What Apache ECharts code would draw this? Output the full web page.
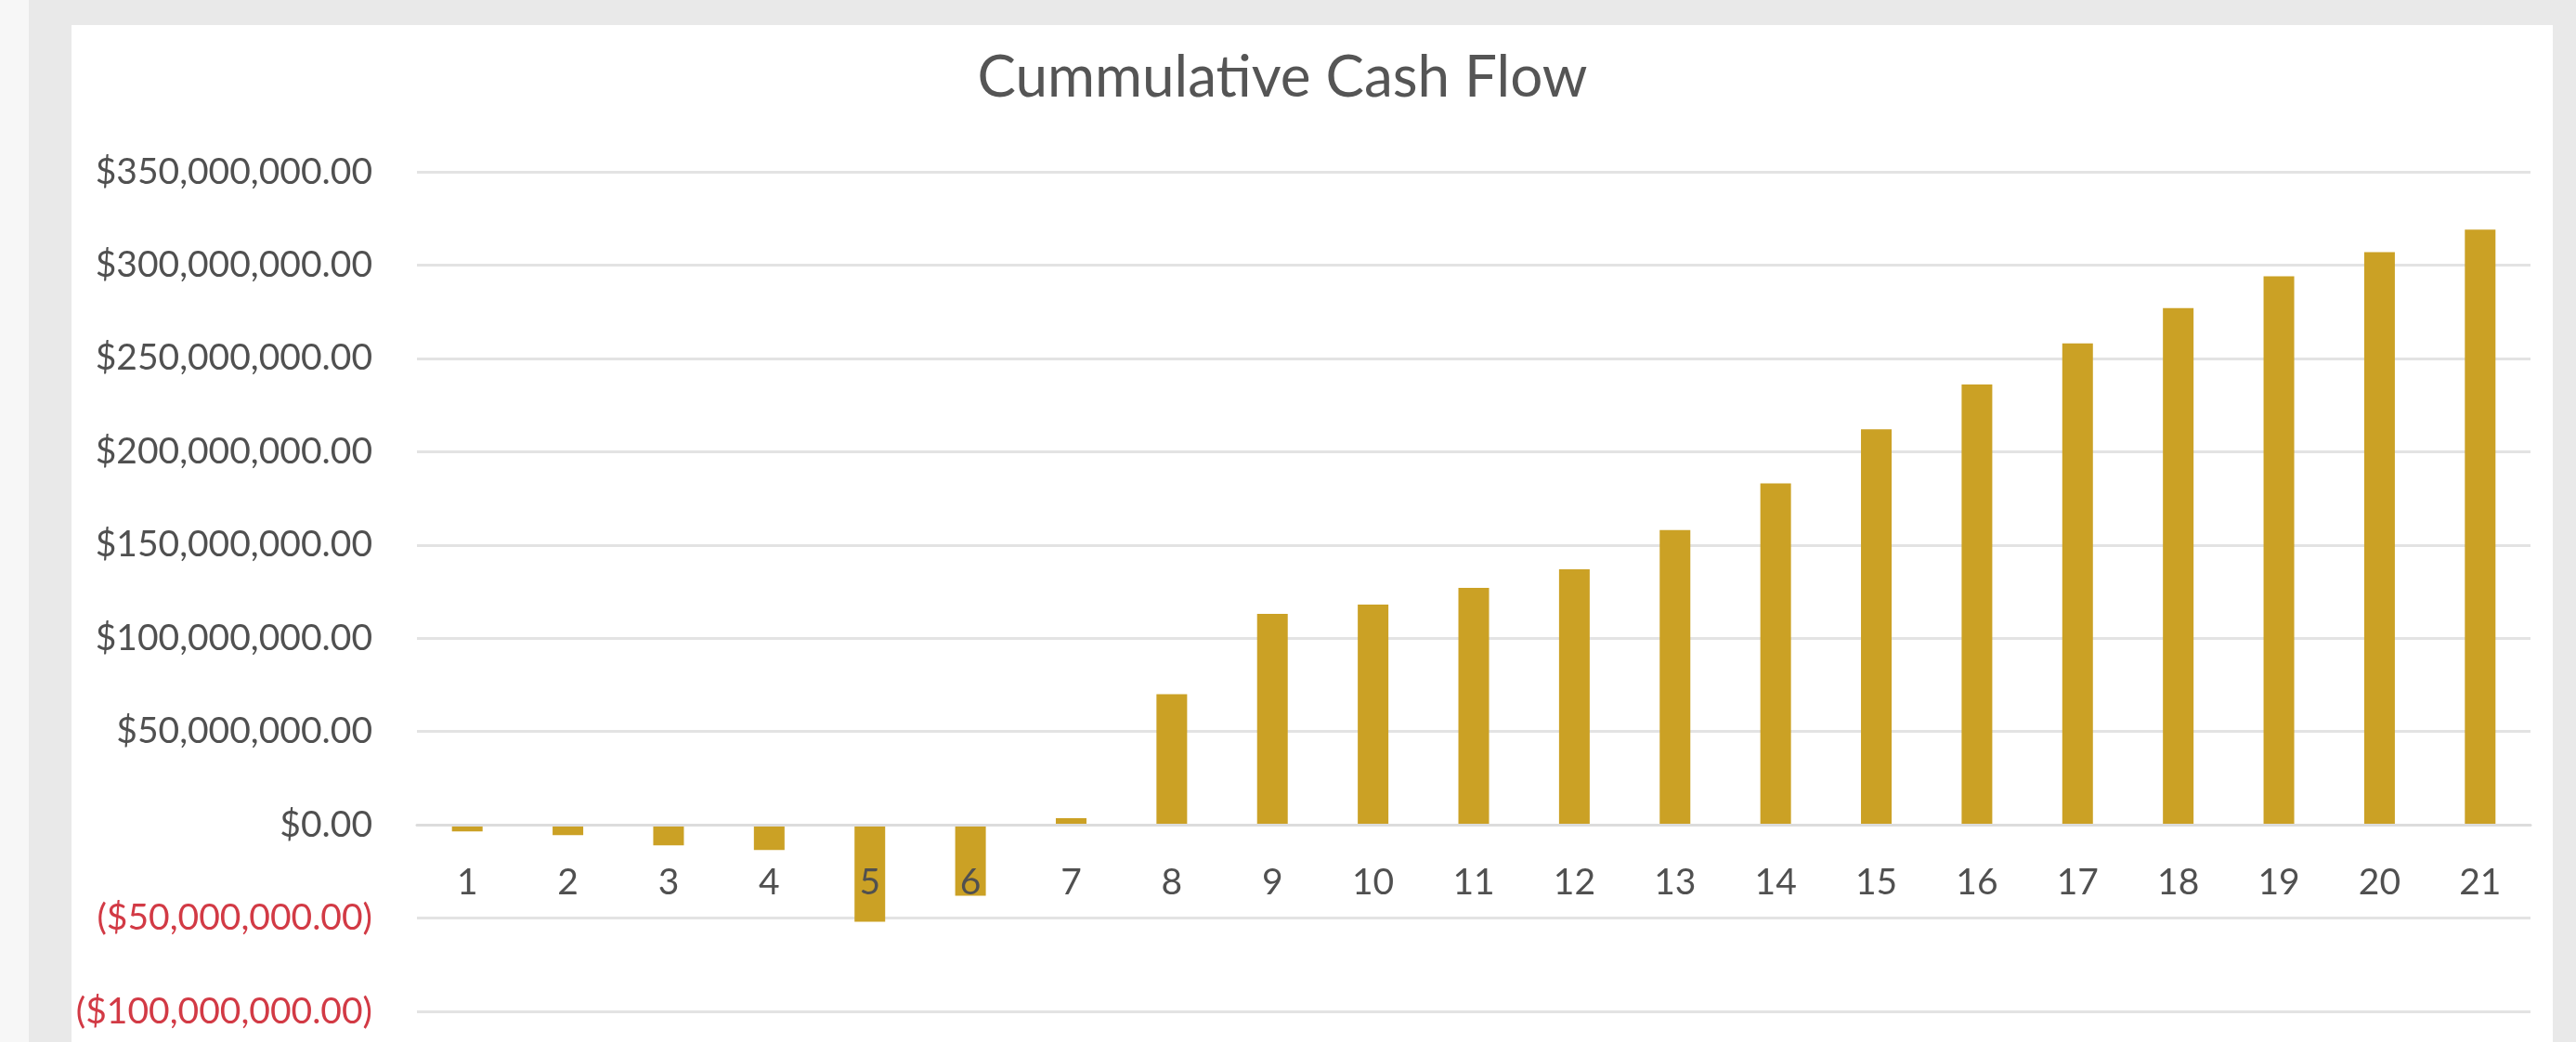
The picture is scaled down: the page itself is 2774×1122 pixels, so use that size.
<!DOCTYPE html>
<html lang="en">
<head>
  <meta charset="UTF-8">
  <title>Cummulative Cash Flow</title>
  <script src="https://cdn.jsdelivr.net/npm/echarts@6/dist/echarts.min.js"></script>
  <style>
    html, body { margin: 0; padding: 0; background: #e9e9e9; }
    #chart { width: 2774px; height: 1122px; }
  </style>
</head>
<body>
  <div id="chart"></div>
  <script>
    // data
    const years = ['1', '2', '3', '4', '5', '6', '7', '8', '9', '10', '11',
      '12', '13', '14', '15', '16', '17', '18', '19', '20', '21']
    const cashFlow = [-3.5e6, -5.5e6, -11e6, -13.5e6, -52e6, -38e6, 3.5e6,
      70e6, 113e6, 118e6, 127e6, 137e6, 158e6, 183e6, 212e6, 236e6,
      258e6, 277e6, 294e6, 307e6, 319e6]
    const yTicks = { min: -100e6, max: 350e6, step: 50e6 }

    const gridTop = 185, gridBottom = 33
    const plotH = 1122 - gridTop - gridBottom
    // category axis sits on the $0 line (onZero doesn't move labels here, so shift it)
    const zeroShift = -plotH * (0 - yTicks.min) / (yTicks.max - yTicks.min)

    const chart = echarts.init(document.getElementById('chart'), null, { renderer: 'canvas' })

    // $350,000,000.00 / ($50,000,000.00)
    function money(v) {
      const s = '$' + Math.abs(v).toLocaleString('en-US', { minimumFractionDigits: 2, maximumFractionDigits: 2 })
      return v < 0 ? '{neg|(' + s + ')}' : s
    }

    chart.setOption({
      backgroundColor: 'transparent',
      graphic: [
        { type: 'rect', z: -10, shape: { x: 0, y: 0, width: 31, height: 1122 }, style: { fill: '#f7f7f7' } },
        { type: 'rect', z: -10, shape: { x: 77, y: 27, width: 2672, height: 1095 }, style: { fill: '#ffffff' } }
      ],
      title: {
        text: 'Cummulative Cash Flow',
        left: 1376,
        textAlign: 'center',
        top: 48,
        textStyle: { fontFamily: 'Lato', fontSize: 62, fontWeight: 'normal', color: '#555555' }
      },
      grid: { left: 449, right: 49, top: gridTop, bottom: gridBottom, outerBoundsMode: 'none', containLabel: false },
      xAxis: {
        type: 'category',
        data: years,
        offset: zeroShift,
        axisLine: { onZero: false, lineStyle: { color: '#dcdcdc', width: 3 } },
        axisTick: { show: false },
        axisLabel: { margin: 43, fontFamily: 'Lato', fontSize: 39, color: '#505050' },
        z: 5
      },
      yAxis: {
        type: 'value',
        min: yTicks.min,
        max: yTicks.max,
        interval: yTicks.step,
        axisLine: { show: false },
        axisTick: { show: false },
        splitLine: { lineStyle: { color: '#e3e3e3', width: 3 } },
        axisLabel: {
          margin: 48,
          fontFamily: 'Lato',
          fontSize: 39,
          color: '#505050',
          formatter: money,
          rich: { neg: { fontFamily: 'Lato', fontSize: 39, color: '#d23a45' } }
        }
      },
      series: [{
        type: 'bar',
        data: cashFlow,
        barWidth: 33,
        itemStyle: { color: '#cba125' },
        z: 1
      }]
    })
  </script>
</body>
</html>
